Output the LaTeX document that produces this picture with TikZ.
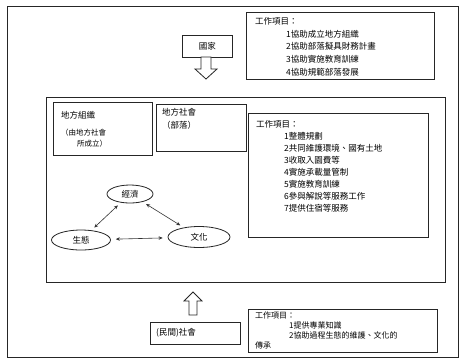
\documentclass[tikz,border=0pt]{standalone}
\usepackage{fontspec}
\newfontfamily\cjk{Noto Sans CJK TC}
\usetikzlibrary{shapes.geometric,arrows.meta}
\begin{document}
\begin{tikzpicture}[x=1pt,y=-1pt,
  box/.style={draw=black!85,line width=0.9pt,rectangle,inner sep=0pt,anchor=north west},
  txt/.style={font=\cjk\fontsize{8.5}{12}\selectfont,align=left,inner sep=0pt,anchor=north west},
  eco/.style={draw=black!85,line width=0.8pt,ellipse,inner sep=0pt,font=\cjk\fontsize{8.5}{10}\selectfont},
  dbl/.style={{Stealth[length=4pt,width=3.5pt]}-{Stealth[length=4pt,width=3.5pt]},line width=0.6pt,black!80},
  hollow/.style={draw=black!85,line width=0.8pt,fill=white}
]
\useasboundingbox (0,0) rectangle (470,360);
\fill[white] (0,0) rectangle (470,360);
% outer frame
\node[box,line width=1.1pt,minimum width=451pt,minimum height=351pt] (outer) at (7,6) {};
% top right box
\node[box,minimum width=188pt,minimum height=67pt] (topbox) at (246,12) {};
\node[txt,font=\cjk\fontsize{8.5}{12.8}\selectfont] (toptxt) at (255,17) {工作項目：\\
\hspace*{31pt}1協助成立地方組織\\
\hspace*{31pt}2協助部落擬具財務計畫\\
\hspace*{31pt}3協助實施教育訓練\\
\hspace*{31pt}4協助規範部落發展};
% nation
\node[box,minimum width=50pt,minimum height=22pt,font=\cjk\fontsize{8.5}{10}\selectfont] (guo) at (182,35) {國家};
\path[hollow] (201,57) -- (211,57) -- (211,69) -- (217,69) -- (206,79) -- (195,69) -- (201,69) -- cycle;
% big box
\node[box,line width=1.1pt,minimum width=399pt,minimum height=185pt] (big) at (46,97) {};
\node[box,minimum width=99pt,minimum height=53pt] (org) at (53,102) {};
\node[txt] (orgtxt1) at (61,111) {地方組織};
\node[txt,font=\cjk\fontsize{7.5}{11}\selectfont] (orgtxt2) at (61,129) {（由地方社會\\\hspace*{16pt}所成立）};
\node[box,minimum width=90pt,minimum height=47pt] (soc) at (156,104) {};
\node[txt,font=\cjk\fontsize{8.5}{13}\selectfont] (soctxt) at (162,108) {地方社會\\（部落）};
\node[box,minimum width=180pt,minimum height=124pt] (work) at (248,113) {};
\node[txt] (worktxt) at (256,120) {工作項目：\\
\hspace*{28pt}1整體規劃\\
\hspace*{28pt}2共同維護環境、國有土地\\
\hspace*{28pt}3收取入園費等\\
\hspace*{28pt}4實施承載量管制\\
\hspace*{28pt}5實施教育訓練\\
\hspace*{28pt}6參與解說等服務工作\\
\hspace*{28pt}7提供住宿等服務};
% ellipses
\node[eco,minimum width=46pt,minimum height=18pt] (jj) at (130,194) {經濟};
\node[eco,minimum width=59pt,minimum height=20pt] (st) at (81,240) {生態};
\node[eco,minimum width=62pt,minimum height=21pt] (wh) at (199,237) {文化};
\draw[dbl,shorten <=4pt,shorten >=4pt] (jj) -- (st);
\draw[dbl,shorten <=4pt,shorten >=4pt] (jj) -- (wh);
\draw[dbl,shorten <=5pt,shorten >=5pt] (st) -- (wh);
% bottom
\path[hollow] (189,315) -- (197,315) -- (197,301) -- (202,301) -- (193,292) -- (184,301) -- (189,301) -- cycle;
\node[box,minimum width=90pt,minimum height=22pt] (min) at (150,322) {};
\node[txt,anchor=west] (mintxt) at (156,333) {(民間)社會};
\node[box,minimum width=189pt,minimum height=43pt] (botbox) at (248,309) {};
\node[txt,font=\cjk\fontsize{8}{10}\selectfont] (bottxt) at (255,312) {工作項目：\\
\hspace*{34pt}1提供專業知識\\
\hspace*{34pt}2協助過程生態的維護、文化的\\
傳承};
\end{tikzpicture}
\end{document}
